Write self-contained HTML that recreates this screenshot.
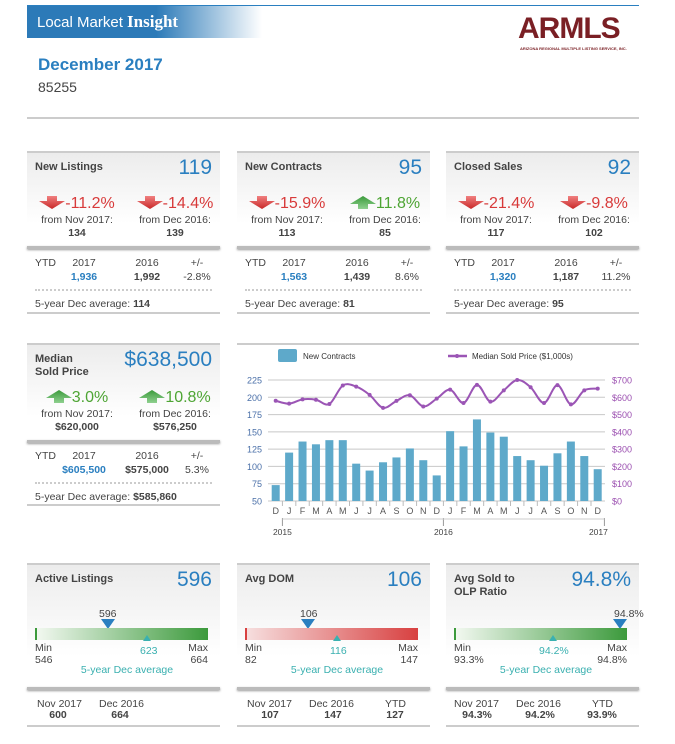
<!DOCTYPE html>
<html><head><meta charset="utf-8"><style>
body{margin:0;width:675px;height:744px;background:#fff;font-family:"Liberation Sans",sans-serif;position:relative;overflow:hidden;color:#444}
.a{position:absolute}
.p{position:absolute;width:193px;border-top:2px solid #ccc}
.hd{position:absolute;left:0;top:0;width:193px;background:linear-gradient(#ececec,#fff 75%)}
.tt{position:absolute;left:8px;top:8px;font-size:11px;font-weight:bold;color:#444;line-height:13px}
.big{position:absolute;right:8px;top:3px;font-size:21px;color:#2a7fc0}
.c{position:absolute;width:100px;text-align:center;font-size:10.5px;color:#444;white-space:nowrap}
.b{font-weight:bold}
.red{color:#d83a3a}.grn{color:#4ea534}.blu{color:#2a7fc0}
.pc{font-size:16px}
.thick{position:absolute;left:0;width:193px;height:3px;background:#bbb;box-shadow:0 1px 2px #999}
.dot{position:absolute;left:8px;width:177px;border-top:2px dotted #ccc}
.bot{position:absolute;left:0;width:193px;border-top:2px solid #ccc}
.sm{position:absolute;font-size:10.5px;color:#444;white-space:nowrap}
.teal{color:#3ab0b0}
svg.ar{vertical-align:-1px}
</style></head><body>
<div class="a" style="left:27px;top:5px;width:612px;border-top:1px solid #2a7fc0"></div>
<div class="a" style="left:27px;top:6px;width:235px;height:32px;background:linear-gradient(90deg,#2c7ab8 0%,#2c7ab8 55%,#fff 100%);color:#fff;font-family:'Liberation Sans',sans-serif;font-size:15px;line-height:32px;padding-left:10px;box-sizing:border-box">Local Market <b style="font-family:'Liberation Serif',serif;font-size:17px">Insight</b></div>
<div class="a" style="left:518px;top:14px;width:115px;font-family:'Liberation Sans';font-weight:bold;font-size:30px;color:#7a1f24;letter-spacing:-1px;line-height:30px">ARMLS</div>
<div class="a" style="left:520px;top:46px;font-size:4px;color:#7a1f24;font-weight:bold">ARIZONA REGIONAL MULTIPLE LISTING SERVICE, INC.</div>
<div class="a" style="left:38px;top:55px;font-size:17px;font-weight:bold;color:#2a7fc0">December 2017</div>
<div class="a" style="left:38px;top:79px;font-size:14px;color:#444">85255</div>
<div class="a" style="left:27px;top:117px;width:612px;border-top:2px solid #ccc"></div>

<svg width="0" height="0" style="position:absolute"><defs>
<linearGradient id="gr" x1="0" y1="0" x2="0" y2="1"><stop offset="0" stop-color="#f08080"/><stop offset="1" stop-color="#c82828"/></linearGradient>
<linearGradient id="gg" x1="0" y1="0" x2="0" y2="1"><stop offset="0" stop-color="#3a9a3a"/><stop offset="1" stop-color="#8fd08f"/></linearGradient>
<path id="dn" d="M8 0H18V5H26L13 13L0 5H8Z"/>
<path id="up" d="M8 13H18V8H26L13 0L0 8H8Z"/>
</defs></svg>

<!-- New Listings -->
<div class="p" style="left:27px;top:151px;height:160px">
<div class="hd" style="height:94px"></div>
<div class="tt">New Listings</div>
<div class="big">119</div>
<div class="c" style="left:0;top:42px"><svg class="ar" width="26" height="13"><use href="#dn" fill="url(#gr)"/></svg><span class="pc red">-11.2%</span></div>
<div class="c" style="left:98px;top:42px"><svg class="ar" width="26" height="13"><use href="#dn" fill="url(#gr)"/></svg><span class="pc red">-14.4%</span></div>
<div class="c" style="left:0;top:61px">from Nov 2017:</div><div class="c b" style="left:0;top:74px">134</div>
<div class="c" style="left:98px;top:61px">from Dec 2016:</div><div class="c b" style="left:98px;top:74px">139</div>
<div class="thick" style="top:93px"></div>
<div class="sm" style="left:8px;top:104px">YTD</div>
<div class="c" style="left:7px;top:104px">2017</div><div class="c b blu" style="left:7px;top:118px">1,936</div>
<div class="c" style="left:70px;top:104px">2016</div><div class="c b" style="left:70px;top:118px">1,992</div>
<div class="c" style="left:120px;top:104px">+/-</div><div class="c" style="left:120px;top:118px">-2.8%</div>
<div class="dot" style="top:136px"></div>
<div class="sm" style="left:8px;top:145px">5-year Dec average: <b>114</b></div>
<div class="bot" style="top:159px"></div>
</div>

<!-- New Contracts -->
<div class="p" style="left:237px;top:151px;height:160px">
<div class="hd" style="height:94px"></div>
<div class="tt">New Contracts</div>
<div class="big">95</div>
<div class="c" style="left:0;top:42px"><svg class="ar" width="26" height="13"><use href="#dn" fill="url(#gr)"/></svg><span class="pc red">-15.9%</span></div>
<div class="c" style="left:98px;top:42px"><svg class="ar" width="26" height="13"><use href="#up" fill="url(#gg)"/></svg><span class="pc grn">11.8%</span></div>
<div class="c" style="left:0;top:61px">from Nov 2017:</div><div class="c b" style="left:0;top:74px">113</div>
<div class="c" style="left:98px;top:61px">from Dec 2016:</div><div class="c b" style="left:98px;top:74px">85</div>
<div class="thick" style="top:93px"></div>
<div class="sm" style="left:8px;top:104px">YTD</div>
<div class="c" style="left:7px;top:104px">2017</div><div class="c b blu" style="left:7px;top:118px">1,563</div>
<div class="c" style="left:70px;top:104px">2016</div><div class="c b" style="left:70px;top:118px">1,439</div>
<div class="c" style="left:120px;top:104px">+/-</div><div class="c" style="left:120px;top:118px">8.6%</div>
<div class="dot" style="top:136px"></div>
<div class="sm" style="left:8px;top:145px">5-year Dec average: <b>81</b></div>
<div class="bot" style="top:159px"></div>
</div>

<!-- Closed Sales -->
<div class="p" style="left:446px;top:151px;height:160px">
<div class="hd" style="height:94px"></div>
<div class="tt">Closed Sales</div>
<div class="big">92</div>
<div class="c" style="left:0;top:42px"><svg class="ar" width="26" height="13"><use href="#dn" fill="url(#gr)"/></svg><span class="pc red">-21.4%</span></div>
<div class="c" style="left:98px;top:42px"><svg class="ar" width="26" height="13"><use href="#dn" fill="url(#gr)"/></svg><span class="pc red">-9.8%</span></div>
<div class="c" style="left:0;top:61px">from Nov 2017:</div><div class="c b" style="left:0;top:74px">117</div>
<div class="c" style="left:98px;top:61px">from Dec 2016:</div><div class="c b" style="left:98px;top:74px">102</div>
<div class="thick" style="top:93px"></div>
<div class="sm" style="left:8px;top:104px">YTD</div>
<div class="c" style="left:7px;top:104px">2017</div><div class="c b blu" style="left:7px;top:118px">1,320</div>
<div class="c" style="left:70px;top:104px">2016</div><div class="c b" style="left:70px;top:118px">1,187</div>
<div class="c" style="left:120px;top:104px">+/-</div><div class="c" style="left:120px;top:118px">11.2%</div>
<div class="dot" style="top:136px"></div>
<div class="sm" style="left:8px;top:145px">5-year Dec average: <b>95</b></div>
<div class="bot" style="top:159px"></div>
</div>

<!-- Median Sold Price -->
<div class="p" style="left:27px;top:343px;height:161px">
<div class="hd" style="height:95px"></div>
<div class="tt">Median<br>Sold Price</div>
<div class="big">$638,500</div>
<div class="c" style="left:0;top:44px"><svg class="ar" width="26" height="13"><use href="#up" fill="url(#gg)"/></svg><span class="pc grn">3.0%</span></div>
<div class="c" style="left:98px;top:44px"><svg class="ar" width="26" height="13"><use href="#up" fill="url(#gg)"/></svg><span class="pc grn">10.8%</span></div>
<div class="c" style="left:0;top:63px">from Nov 2017:</div><div class="c b" style="left:0;top:76px">$620,000</div>
<div class="c" style="left:98px;top:63px">from Dec 2016:</div><div class="c b" style="left:98px;top:76px">$576,250</div>
<div class="thick" style="top:95px"></div>
<div class="sm" style="left:8px;top:105px">YTD</div>
<div class="c" style="left:7px;top:105px">2017</div><div class="c b blu" style="left:7px;top:119px">$605,500</div>
<div class="c" style="left:70px;top:105px">2016</div><div class="c b" style="left:70px;top:119px">$575,000</div>
<div class="c" style="left:120px;top:105px">+/-</div><div class="c" style="left:120px;top:119px">5.3%</div>
<div class="dot" style="top:137px"></div>
<div class="sm" style="left:8px;top:146px">5-year Dec average: <b>$585,860</b></div>
<div class="bot" style="top:159px"></div>
</div>

<!-- Chart -->
<div class="a" style="left:237px;top:343px;width:402px;border-top:2px solid #ccc"></div>
<svg id="chart" class="a" style="left:0;top:0" width="675" height="744"></svg>

<!-- Active Listings -->
<div class="p" style="left:27px;top:563px;height:162px">
<div class="hd" style="height:122px"></div>
<div class="tt">Active Listings</div>
<div class="big">596</div>
<div class="sm" style="left:72px;top:43px">596</div>
<svg class="a" style="left:74px;top:54px" width="14" height="10"><path d="M0 0H14L7 10Z" fill="#2a7fc0"/></svg>
<div class="a" style="left:8px;top:63px;width:173px;height:12px;background:linear-gradient(90deg,#f2f8f0,#3c9a3c);border-left:2px solid #3c9a3c;box-sizing:border-box"></div>
<svg class="a" style="left:116px;top:70px" width="8" height="6"><path d="M0 6H8L4 0Z" fill="#3ab0b0"/></svg>
<div class="sm" style="left:8px;top:77px">Min</div><div class="sm" style="left:8px;top:89px">546</div>
<div class="sm" style="right:12px;top:77px">Max</div><div class="sm" style="right:12px;top:89px">664</div>
<div class="sm teal" style="left:113px;top:80px">623</div>
<div class="c teal" style="left:50px;top:99px">5-year Dec average</div>
<div class="thick" style="top:122px"></div>
<div class="sm" style="left:10px;top:133px">Nov 2017</div><div class="c b" style="left:-19px;top:144px">600</div>
<div class="sm" style="left:72px;top:133px">Dec 2016</div><div class="c b" style="left:43px;top:144px">664</div>
<div class="bot" style="top:160px"></div>
</div>

<!-- Avg DOM -->
<div class="p" style="left:237px;top:563px;height:162px">
<div class="hd" style="height:122px"></div>
<div class="tt">Avg DOM</div>
<div class="big">106</div>
<div class="sm" style="left:63px;top:43px">106</div>
<svg class="a" style="left:64px;top:54px" width="14" height="10"><path d="M0 0H14L7 10Z" fill="#2a7fc0"/></svg>
<div class="a" style="left:8px;top:63px;width:173px;height:12px;background:linear-gradient(90deg,#f6dede,#d84040);border-left:2px solid #d84040;box-sizing:border-box"></div>
<svg class="a" style="left:96px;top:70px" width="8" height="6"><path d="M0 6H8L4 0Z" fill="#3ab0b0"/></svg>
<div class="sm" style="left:8px;top:77px">Min</div><div class="sm" style="left:8px;top:89px">82</div>
<div class="sm" style="right:12px;top:77px">Max</div><div class="sm" style="right:12px;top:89px">147</div>
<div class="sm teal" style="left:93px;top:80px">116</div>
<div class="c teal" style="left:50px;top:99px">5-year Dec average</div>
<div class="thick" style="top:122px"></div>
<div class="sm" style="left:10px;top:133px">Nov 2017</div><div class="c b" style="left:-17px;top:144px">107</div>
<div class="sm" style="left:72px;top:133px">Dec 2016</div><div class="c b" style="left:46px;top:144px">147</div>
<div class="sm" style="left:148px;top:133px">YTD</div><div class="c b" style="left:108px;top:144px">127</div>
<div class="bot" style="top:160px"></div>
</div>

<!-- OLP Ratio -->
<div class="p" style="left:446px;top:563px;height:162px">
<div class="hd" style="height:122px"></div>
<div class="tt">Avg Sold to<br>OLP Ratio</div>
<div class="big">94.8%</div>
<div class="sm" style="left:168px;top:43px">94.8%</div>
<svg class="a" style="left:167px;top:54px" width="14" height="10"><path d="M0 0H14L7 10Z" fill="#2a7fc0"/></svg>
<div class="a" style="left:8px;top:63px;width:173px;height:12px;background:linear-gradient(90deg,#f2f8f0,#3c9a3c);border-left:2px solid #3c9a3c;box-sizing:border-box"></div>
<svg class="a" style="left:103px;top:70px" width="8" height="6"><path d="M0 6H8L4 0Z" fill="#3ab0b0"/></svg>
<div class="sm" style="left:8px;top:77px">Min</div><div class="sm" style="left:8px;top:89px">93.3%</div>
<div class="sm" style="right:12px;top:77px">Max</div><div class="sm" style="right:12px;top:89px">94.8%</div>
<div class="sm teal" style="left:93px;top:80px">94.2%</div>
<div class="c teal" style="left:50px;top:99px">5-year Dec average</div>
<div class="thick" style="top:122px"></div>
<div class="sm" style="left:8px;top:133px">Nov 2017</div><div class="c b" style="left:-19px;top:144px">94.3%</div>
<div class="sm" style="left:70px;top:133px">Dec 2016</div><div class="c b" style="left:44px;top:144px">94.2%</div>
<div class="sm" style="left:146px;top:133px">YTD</div><div class="c b" style="left:106px;top:144px">93.9%</div>
<div class="bot" style="top:160px"></div>
</div>

<script>
const months=["D","J","F","M","A","M","J","J","A","S","O","N","D","J","F","M","A","M","J","J","A","S","O","N","D"];
const contracts=[73,120,136,132,138,138,104,94,106,113,126,109,87,151,129,168,149,143,115,109,101,119,136,115,96];
const price=[580,563,588,586,561,668,662,614,539,579,612,547,592,644,567,672,575,640,700,658,567,670,559,640,650];
const leftTicks=[50,75,100,125,150,175,200,225];
const rightTicks=["$0","$100","$200","$300","$400","$500","$600","$700"];
const years=["2015","2016","2017"];
const NS="http://www.w3.org/2000/svg";
const svg=document.getElementById('chart');
const L=268,R=605,T=380,B=501;
const yL=v=>B-(v-50)/175*(B-T);
const yR=v=>B-v/700*(B-T);
const step=(597.7-275.7)/(months.length-1);
const xC=i=>275.7+i*step;
function mk(tag,attrs,txt){const e=document.createElementNS(NS,tag);for(const k in attrs)e.setAttribute(k,attrs[k]);if(txt!==undefined)e.textContent=txt;svg.appendChild(e);return e;}
leftTicks.forEach((t,i)=>{
  const g=mk('line',{x1:L,x2:R,y1:yL(t),y2:yL(t),stroke:'#c8c8c8','stroke-width':1});
  
  
  const lt=mk('text',{x:262,y:yL(t)+3.5,'text-anchor':'end','font-size':9,fill:'#4a6fa8','font-family':'Liberation Sans'},t);
  
  
  const rt=mk('text',{x:612,y:yL(t)+3.5,'font-size':9,fill:'#9b4fb0','font-family':'Liberation Sans'},rightTicks[i]);
  
  
});
contracts.forEach((v,i)=>{
  const b=mk('rect',{x:xC(i)-4,y:yL(v),width:8,height:B-yL(v),fill:'#5ea9ca'});
  
  
  const t=mk('text',{x:xC(i),y:514,'text-anchor':'middle','font-size':9,fill:'#555','font-family':'Liberation Sans'},months[i]);
  
  
  if(i>0){const tk=mk('line',{x1:xC(i)-step/2,x2:xC(i)-step/2,y1:B,y2:B+5,stroke:'#bbb'});
  
  }
});
const yrIdx=[0.5,12.5,24.5];
years.forEach((y,i)=>{
  const x=xC(yrIdx[i]);
  mk('line',{x1:x,x2:x,y1:518,y2:526,stroke:'#999'});
  const t=mk('text',{x:x-(i==2?6:0),y:535,'text-anchor':'middle','font-size':8.5,fill:'#444','font-family':'Liberation Sans'},y);
  
  
});
mk('line',{x1:xC(0.5),x2:xC(24.5),y1:519,y2:519,stroke:'#ccc'});
const pts=price.map((v,i)=>[xC(i),yR(v)]);
let d='M'+pts[0][0]+' '+pts[0][1];
for(let i=0;i<pts.length-1;i++){
  const p0=pts[Math.max(i-1,0)],p1=pts[i],p2=pts[i+1],p3=pts[Math.min(i+2,pts.length-1)];
  const c1=[p1[0]+(p2[0]-p0[0])/6,p1[1]+(p2[1]-p0[1])/6],c2=[p2[0]-(p3[0]-p1[0])/6,p2[1]-(p3[1]-p1[1])/6];
  d+=` C${c1[0]} ${c1[1]} ${c2[0]} ${c2[1]} ${p2[0]} ${p2[1]}`;
}
const ln=mk('path',{d:d,fill:'none',stroke:'#9b55b5','stroke-width':2});


pts.forEach(p=>{const c=mk('circle',{cx:p[0],cy:p[1],r:2,fill:'#9b55b5'});
  
  });
const l1=mk('rect',{x:278,y:349,width:19,height:13,rx:2,fill:'#5ea9ca'});


const l1t=mk('text',{x:303,y:359,'font-size':8,fill:'#333','font-family':'Liberation Sans'},'New Contracts');


const l2=mk('line',{x1:448,x2:467,y1:356,y2:356,stroke:'#9b55b5','stroke-width':2.5});


mk('circle',{cx:457,cy:356,r:2,fill:'#9b55b5'});
const l2t=mk('text',{x:472,y:359,'font-size':8,fill:'#333','font-family':'Liberation Sans'},'Median Sold Price ($1,000s)');


</script>
</body></html>
